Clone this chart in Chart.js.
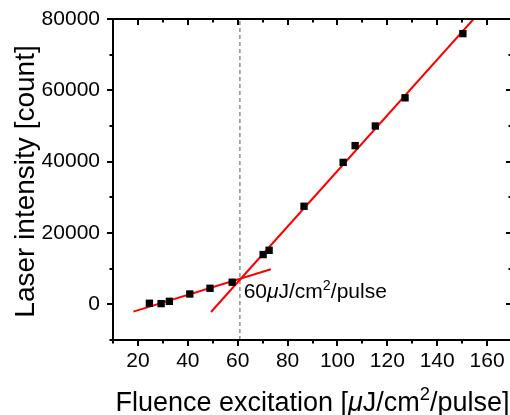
<!DOCTYPE html>
<html>
<head>
<meta charset="utf-8">
<script src="https://cdn.jsdelivr.net/npm/chart.js@4"></script>
<style>
html,body{margin:0;padding:0;overflow:hidden;background:#fff;}
#wrap{width:522px;height:415px;}
</style>
</head>
<body>
<div id="wrap"><canvas id="c" width="522" height="415"></canvas></div>
<script>
// ---- data ----
const fluence   = [24.6, 29.3, 32.6, 40.8, 48.9, 57.8, 70.2, 72.6, 86.6, 102.3, 107.1, 115.2, 127.1, 150.3];
const intensity = [300, 200, 850, 2900, 4500, 6200, 13950, 15150, 27500, 39800, 44500, 50000, 57900, 75900];
const lowFitX  = [18.2, 73.3];
const lowFitY  = [-2050, 9820];
const highFitX = [49.3, 154.6];
const highFitY = [-2150, 80000];
const thresholdX = [60.9, 60.9];
const thresholdY = [-10000, 80000];
const xTickLabels = [20, 40, 60, 80, 100, 120, 140, 160];
const yTickLabels = [0, 20000, 40000, 60000, 80000];
const xTitleParts = [{t:'Fluence excitation ['},{t:'μ',i:true},{t:'J/cm'},{t:'2',s:true},{t:'/pulse]'}];
const yTitleParts = [{t:'Laser intensity [count]'}];
const noteParts   = [{t:'60'},{t:'μ',i:true},{t:'J/cm'},{t:'2',s:true},{t:'/pulse'}];
const notePos = {x: 62.4, y: 3700};

const FONT = "'Liberation Sans', Arial, sans-serif";
const pts = (xs, ys) => xs.map((x, k) => ({x, y: ys[k]}));

function richWidth(ctx, parts, size) {
  let w = 0;
  for (const p of parts) {
    const sz = p.s ? size * 0.68 : size;
    ctx.font = (p.i ? 'italic ' : '') + sz + 'px ' + FONT;
    w += ctx.measureText(p.t).width;
  }
  return w;
}
function drawRich(ctx, parts, size, x, y) {
  let cx = x;
  ctx.textBaseline = 'alphabetic';
  ctx.textAlign = 'left';
  for (const p of parts) {
    const sz = p.s ? size * 0.68 : size;
    ctx.font = (p.i ? 'italic ' : '') + sz + 'px ' + FONT;
    ctx.fillText(p.t, cx, p.s ? y - size * 0.4 : y);
    cx += ctx.measureText(p.t).width;
  }
}

const framePlugin = {
  id: 'frame',
  afterDraw(chart) {
    const {ctx, chartArea: a, scales: {x, y}} = chart;
    ctx.save();
    ctx.strokeStyle = '#000';
    ctx.lineWidth = 2;
    ctx.lineCap = 'butt';
    ctx.beginPath();
    ctx.rect(a.left, a.top, a.right - a.left, a.bottom - a.top);
    ctx.stroke();
    // x ticks (bottom outward, top inward)
    for (let v = x.min; v <= x.max + 1e-9; v += 10) {
      const px = Math.round(x.getPixelForValue(v));
      const major = v % 20 === 0;
      const len = major ? 6 : 3.5;
      ctx.beginPath();
      ctx.moveTo(px, a.bottom); ctx.lineTo(px, a.bottom + len);
      ctx.moveTo(px, a.top); ctx.lineTo(px, a.top + len);
      ctx.stroke();
    }
    // y ticks (left outward, right inward)
    for (let v = y.min; v <= y.max + 1e-9; v += 10000) {
      const py = Math.round(y.getPixelForValue(v));
      const major = v % 20000 === 0;
      const len = major ? 6 : 3.5;
      ctx.beginPath();
      ctx.moveTo(a.left, py); ctx.lineTo(a.left - len, py);
      ctx.moveTo(a.right, py); ctx.lineTo(a.right - len, py);
      ctx.stroke();
    }
    ctx.fillStyle = '#000';
    // annotation
    drawRich(ctx, noteParts, 21, x.getPixelForValue(notePos.x), y.getPixelForValue(notePos.y) + 7);
    // x title
    const xs = 27;
    const xw = richWidth(ctx, xTitleParts, xs);
    drawRich(ctx, xTitleParts, xs, (a.left + a.right) / 2 - xw / 2, 411);
    // y title
    const ys = 28;
    const yw = richWidth(ctx, yTitleParts, ys);
    ctx.translate(34, (a.top + a.bottom) / 2 + 2);
    ctx.rotate(-Math.PI / 2);
    drawRich(ctx, yTitleParts, ys, -yw / 2, 0);
    ctx.restore();
  }
};

new Chart(document.getElementById('c'), {
  type: 'scatter',
  data: {
    datasets: [
      {data: pts(fluence, intensity), pointStyle: 'rect', pointRadius: 5.2, pointHoverRadius: 5.2,
       backgroundColor: '#000', borderColor: '#000', borderWidth: 0, showLine: false, order: 0},
      {data: pts(lowFitX, lowFitY), showLine: true, borderColor: '#ff0000', borderWidth: 2,
       pointRadius: 0, order: 1},
      {data: pts(highFitX, highFitY), showLine: true, borderColor: '#ff0000', borderWidth: 2,
       pointRadius: 0, order: 1},
      {data: pts(thresholdX, thresholdY), showLine: true, borderColor: '#555', borderWidth: 1,
       borderDash: [4, 3], pointRadius: 0, order: 2}
    ]
  },
  options: {
    responsive: false,
    devicePixelRatio: 1,
    animation: false,
    events: [],
    layout: {padding: {left: 0, top: 19, right: 10, bottom: 0}},
    plugins: {legend: {display: false}, tooltip: {enabled: false}},
    scales: {
      x: {
        type: 'linear', min: 10, max: 170,
        grid: {display: false, drawTicks: false},
        border: {display: false},
        afterFit(s) { s.height = 75; s.paddingLeft = 0; s.paddingRight = 0; },
        ticks: {
          stepSize: 10, autoSkip: false, maxRotation: 0, padding: 9,
          color: '#000', font: {family: FONT, size: 21},
          callback: v => xTickLabels.includes(v) ? String(v) : ''
        }
      },
      y: {
        type: 'linear', min: -10000, max: 80000,
        grid: {display: false, drawTicks: false},
        border: {display: false},
        afterFit(s) { s.width = 113; s.paddingTop = 0; s.paddingBottom = 0; },
        ticks: {
          stepSize: 10000, autoSkip: false, padding: 13,
          color: '#000', font: {family: FONT, size: 21},
          callback: v => yTickLabels.includes(v) ? String(v) : ''
        }
      }
    }
  },
  plugins: [framePlugin]
});
</script>
</body>
</html>
